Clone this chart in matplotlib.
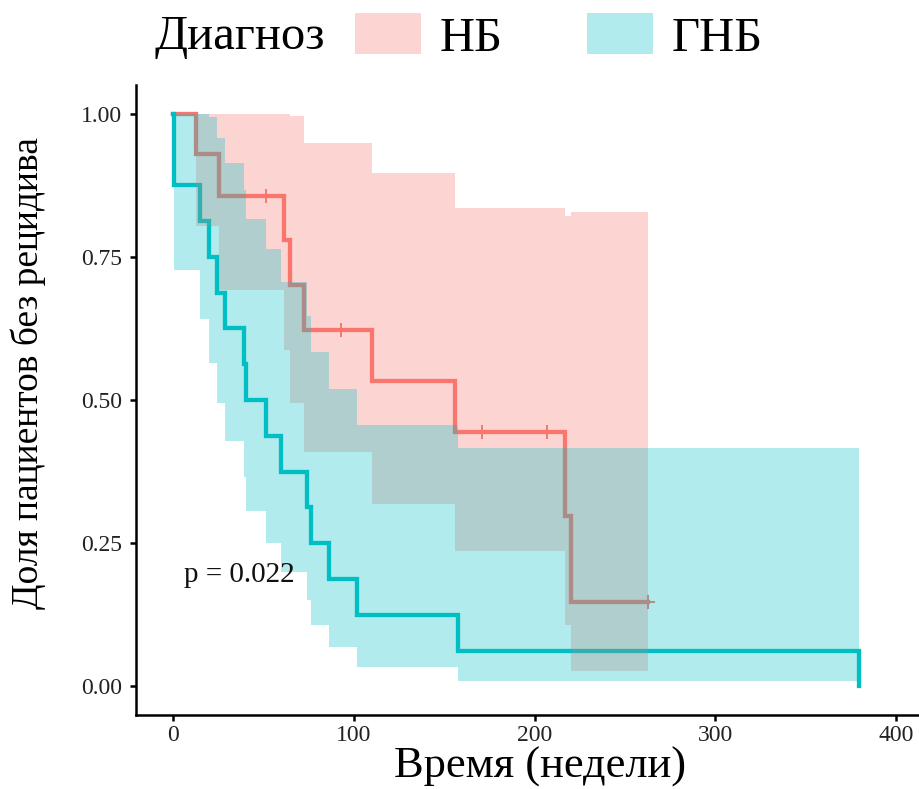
import numpy as np
import matplotlib
matplotlib.use("Agg")
import matplotlib.pyplot as plt
from matplotlib.patches import Patch

# ---- data ----
groups = ["НБ", "ГНБ"]
legend_title = "Диагноз"

nb_time = [0, 13, 25.5, 61.5, 65, 72.7, 110, 156, 217, 220, 263]
nb_surv = [1.0, 0.929, 0.857, 0.779, 0.701, 0.623, 0.534, 0.445, 0.297, 0.148, 0.148]
nb_upper = [1.0, 1.0, 1.0, 1.0, 0.996, 0.949, 0.897, 0.836, 0.822, 0.828, 0.828]
nb_lower = [1.0, 0.803, 0.692, 0.587, 0.494, 0.409, 0.318, 0.237, 0.107, 0.027, 0.027]
nb_cens_time = [51.6, 93, 171, 207, 263]
nb_cens_surv = [0.857, 0.623, 0.445, 0.445, 0.148]

gnb_time = [0, 0.5, 15, 20, 24.6, 29, 39.5, 40.5, 51.6, 60, 74.3, 76.5, 86.5, 102, 157.6, 379.4]
gnb_surv = [1.0, 0.875, 0.8125, 0.75, 0.6875, 0.625, 0.5625, 0.5, 0.4375, 0.375,
            0.3125, 0.25, 0.1875, 0.125, 0.0625, 0.0]
gnb_upper = [1.0, 1.0, 1.0, 0.995, 0.957, 0.914, 0.867, 0.816, 0.763, 0.706,
             0.646, 0.584, 0.520, 0.457, 0.417, 0.417]
gnb_lower = [1.0, 0.727, 0.642, 0.565, 0.494, 0.428, 0.365, 0.306, 0.251, 0.199,
             0.151, 0.107, 0.068, 0.034, 0.009, 0.009]

x_ticks = [0, 100, 200, 300, 400]
y_ticks = [0.0, 0.25, 0.50, 0.75, 1.00]
y_ticklabels = ["0.00", "0.25", "0.50", "0.75", "1.00"]
p_text = "p = 0.022"
x_label = "Время (недели)"
y_label = "Доля пациентов без рецидива"

red = "#F8766D"
teal = "#00BFC4"

plt.rcParams['font.family'] = ['Liberation Serif', 'DejaVu Serif']

fig = plt.figure(figsize=(9.2, 7.89), dpi=100)
ax = fig.add_axes([136/920, 1-715/789, (918-136)/920, (715-85)/789])

# lines first (bands drawn over them, as in the reference)
ax.step(nb_time, nb_surv, where='post', color=red, lw=3.1, zorder=2, solid_joinstyle='miter')
ax.plot(nb_cens_time, nb_cens_surv, ls='none', marker='+', ms=10, mew=1.4, color=red, zorder=2)
ax.step(gnb_time, gnb_surv, where='post', color=teal, lw=3.1, zorder=2, solid_joinstyle='miter')

ax.fill_between(nb_time, nb_lower, nb_upper, step='post', color=red, alpha=0.3, lw=0, zorder=3)
ax.fill_between(gnb_time, gnb_lower, gnb_upper, step='post', color=teal, alpha=0.3, lw=0, zorder=3)

ax.text(6, 0.183, p_text, fontsize=21, ha='left', va='baseline', color='#111111')

ax.set_xlim(-20.3, 412)
ax.set_ylim(-0.05, 1.05)
ax.set_xticks(x_ticks)
ax.set_yticks(y_ticks)
ax.set_yticklabels(y_ticklabels)
for s in ['top', 'right']:
    ax.spines[s].set_visible(False)
for s in ['left', 'bottom']:
    ax.spines[s].set_linewidth(1.8)
    ax.spines[s].set_color('black')
ax.tick_params(axis='both', length=4, width=1.8, labelsize=17, colors='black', labelcolor='#222222')
ax.tick_params(axis='y', pad=6)
ax.tick_params(axis='x', pad=3)

ax.set_xlabel(x_label, fontsize=32)
ax.xaxis.label.set_va('baseline')
ax.xaxis.set_label_coords((540-136)/782, (715-778)/630)
ax.set_ylabel(y_label, fontsize=27)
ax.yaxis.label.set_va('center')
ax.yaxis.set_label_coords((28-136)/782, (715-373)/630)

# legend on top
fs = 35
fig.text(155/920, 1-49/789, legend_title, fontsize=fs, ha='left', va='baseline')
handles = [Patch(facecolor=red, alpha=0.3, lw=0), Patch(facecolor=teal, alpha=0.3, lw=0)]
em = fs * 100 / 72
leg = fig.legend(handles, groups, ncol=2, loc='center left',
                 bbox_to_anchor=(355/920, 1-37/789), frameon=False,
                 fontsize=fs, handlelength=66/em, handleheight=44/em,
                 handletextpad=19/em, columnspacing=84/em, borderaxespad=0,
                 borderpad=0)

fig.savefig("out.png", dpi=100)
